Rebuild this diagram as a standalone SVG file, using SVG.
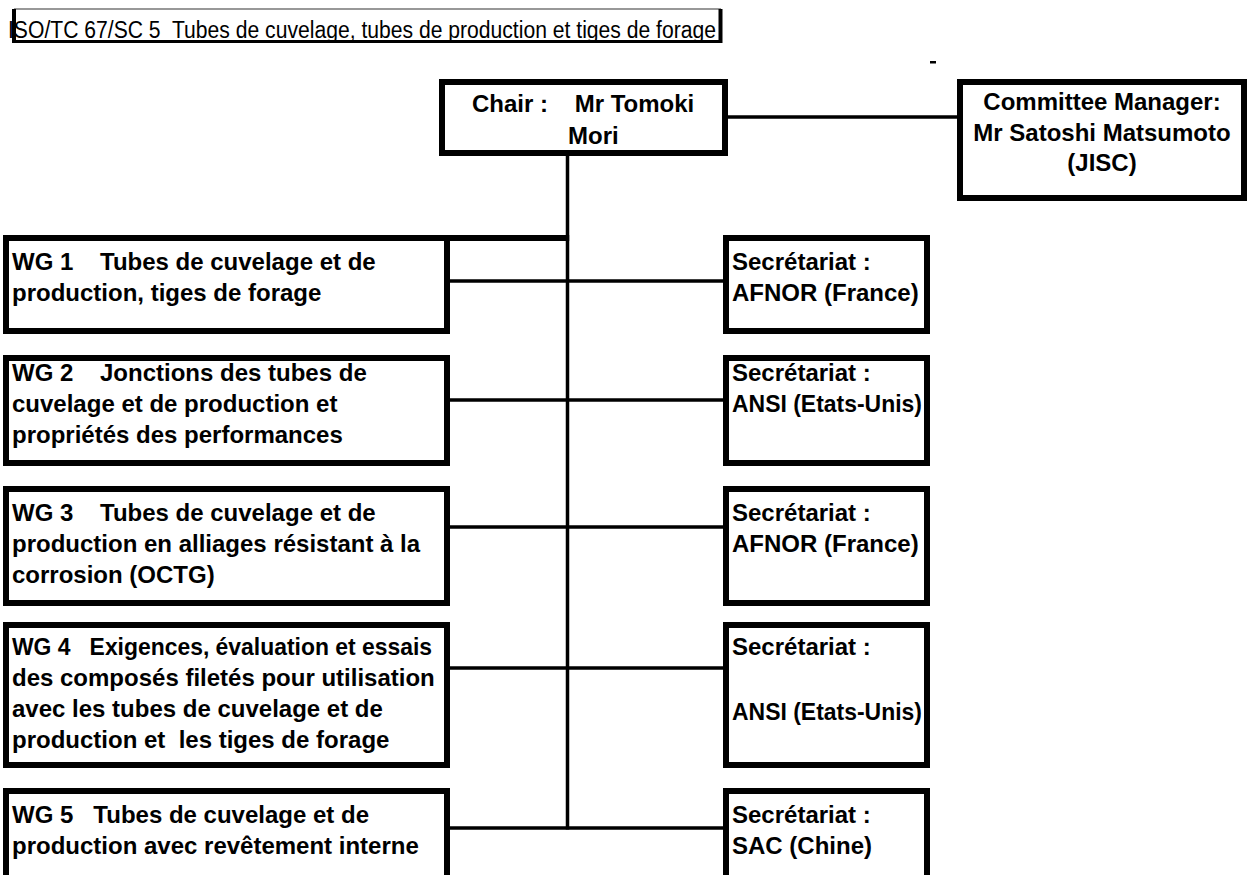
<svg xmlns="http://www.w3.org/2000/svg" width="1247" height="875" viewBox="0 0 1247 875">
<defs>
<style>
.box{fill:#fff;stroke:#000;stroke-width:6}
.t{font-family:"Liberation Sans",Arial,sans-serif;font-weight:bold;font-size:24px;fill:#000}
.ttl{font-family:"Liberation Sans",Arial,sans-serif;font-size:23px;fill:#000}
.conn{stroke:#000;stroke-width:3.5;fill:none}
</style>
</defs>
<rect width="1247" height="875" fill="#fff"/>
<g id="title">
<line x1="14" y1="9" x2="721" y2="9" stroke="#333" stroke-width="1.2"/>
<line x1="14" y1="41.5" x2="721" y2="41.5" stroke="#000" stroke-width="3"/>
<line x1="14" y1="9" x2="14" y2="43" stroke="#000" stroke-width="4"/>
<line x1="720.5" y1="9" x2="720.5" y2="43" stroke="#000" stroke-width="4"/>
<text class="ttl" x="8" y="38" textLength="708" lengthAdjust="spacingAndGlyphs" xml:space="preserve">ISO/TC 67/SC 5  Tubes de cuvelage, tubes de production et tiges de forage</text>
</g>
<rect id="dash" x="930" y="61" width="6" height="2.5" fill="#000"/>
<g id="connectors">
<line class="conn" x1="728" y1="117" x2="957" y2="117"/>
<line class="conn" x1="567.5" y1="156" x2="567.5" y2="829.5"/>
<line x1="447" y1="238" x2="569.2" y2="238" stroke="#000" stroke-width="6"/>
<line class="conn" x1="450" y1="281" x2="723" y2="281"/>
<line class="conn" x1="450" y1="400" x2="723" y2="400"/>
<line class="conn" x1="450" y1="527" x2="723" y2="527"/>
<line class="conn" x1="450" y1="668" x2="723" y2="668"/>
<line class="conn" x1="450" y1="828" x2="723" y2="828"/>
</g>
<g id="chair">
<rect class="box" x="442" y="82" width="283" height="71"/>
<text class="t" x="472" y="112" xml:space="preserve">Chair :    Mr Tomoki</text>
<text class="t" x="568" y="144">Mori</text>
</g>
<g id="manager">
<rect class="box" x="960" y="82" width="284" height="116"/>
<text class="t" x="1102" y="110" text-anchor="middle">Committee Manager:</text>
<text class="t" x="1102" y="141" text-anchor="middle">Mr Satoshi Matsumoto</text>
<text class="t" x="1102" y="171" text-anchor="middle">(JISC)</text>
</g>
<g id="wg1">
<rect class="box" x="6" y="238" width="441" height="93"/>
<text class="t" x="12" y="270" xml:space="preserve">WG 1    Tubes de cuvelage et de</text>
<text class="t" x="12" y="301">production, tiges de forage</text>
</g>
<g id="sec1">
<rect class="box" x="726" y="238" width="201" height="93"/>
<text class="t" x="732" y="270">Secrétariat :</text>
<text class="t" x="732" y="301">AFNOR (France)</text>
</g>
<g id="wg2">
<rect class="box" x="6" y="358" width="441" height="105"/>
<text class="t" x="12" y="381" xml:space="preserve">WG 2    Jonctions des tubes de</text>
<text class="t" x="12" y="412">cuvelage et de production et</text>
<text class="t" x="12" y="443">propriétés des performances</text>
</g>
<g id="sec2">
<rect class="box" x="726" y="358" width="201" height="105"/>
<text class="t" x="732" y="381">Secrétariat :</text>
<text class="t" x="732" y="412" textLength="190" lengthAdjust="spacingAndGlyphs">ANSI (Etats-Unis)</text>
</g>
<g id="wg3">
<rect class="box" x="6" y="489" width="441" height="114"/>
<text class="t" x="12" y="521" xml:space="preserve">WG 3    Tubes de cuvelage et de</text>
<text class="t" x="12" y="552">production en alliages résistant à la</text>
<text class="t" x="12" y="583">corrosion (OCTG)</text>
</g>
<g id="sec3">
<rect class="box" x="726" y="489" width="201" height="114"/>
<text class="t" x="732" y="521">Secrétariat :</text>
<text class="t" x="732" y="552">AFNOR (France)</text>
</g>
<g id="wg4">
<rect class="box" x="6" y="625" width="441" height="140"/>
<text class="t" x="12" y="655" textLength="420" lengthAdjust="spacingAndGlyphs" xml:space="preserve">WG 4   Exigences, évaluation et essais</text>
<text class="t" x="12" y="686">des composés filetés pour utilisation</text>
<text class="t" x="12" y="717">avec les tubes de cuvelage et de</text>
<text class="t" x="12" y="748" xml:space="preserve">production et  les tiges de forage</text>
</g>
<g id="sec4">
<rect class="box" x="726" y="625" width="201" height="140"/>
<text class="t" x="732" y="655">Secrétariat :</text>
<text class="t" x="732" y="720" textLength="190" lengthAdjust="spacingAndGlyphs">ANSI (Etats-Unis)</text>
</g>
<g id="wg5">
<rect class="box" x="6" y="791" width="441" height="100"/>
<text class="t" x="12" y="823" xml:space="preserve">WG 5   Tubes de cuvelage et de</text>
<text class="t" x="12" y="854">production avec revêtement interne</text>
</g>
<g id="sec5">
<rect class="box" x="726" y="791" width="201" height="100"/>
<text class="t" x="732" y="823">Secrétariat :</text>
<text class="t" x="732" y="854">SAC (Chine)</text>
</g>
</svg>
